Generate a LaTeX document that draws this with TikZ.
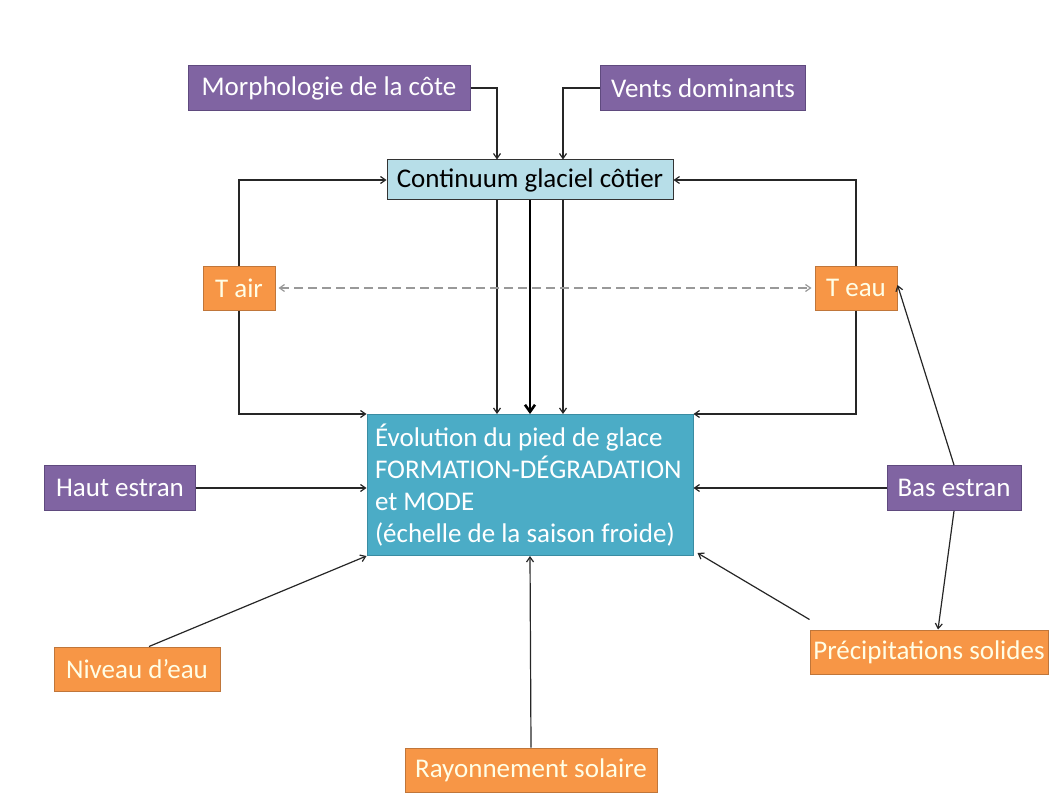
\documentclass[tikz,border=0pt]{standalone}
\usepackage{fontspec}
\setmainfont{Carlito}
\usetikzlibrary{calc,arrows.meta}

\definecolor{violetbox}{HTML}{8064A2}
\definecolor{violetdark}{HTML}{5F4A7E}
\definecolor{orangebox}{HTML}{F79646}
\definecolor{orangedark}{HTML}{C0763A}
\definecolor{bleuclair}{HTML}{B7DEE8}
\definecolor{bleu}{HTML}{4BACC6}
\definecolor{bleudark}{HTML}{3A8CA2}

\begin{document}
\begin{tikzpicture}[x=1pt,y=-1pt,
    every node/.style={font=\fontsize{27}{32}\selectfont, inner sep=0pt},
    facteur/.style={draw=violetdark, fill=violetbox, text=white, line width=1pt, minimum height=45pt},
    mesure/.style={draw=orangedark, fill=orangebox, text=white!90!yellow, line width=1pt, minimum height=44pt},
    fleche/.style={-{Straight Barb[length=5pt,width=7pt]}, line width=1.2pt, black!85},
    ]
            \useasboundingbox (0,0) rectangle (1059,794);
            % boites du haut
            \node[facteur, minimum width=282pt] (morpho) at (329,88) {Morphologie de la côte};
            \node[facteur, minimum width=205pt] (vents) at (703,88) {Vents dominants};
            \node[draw=black!80, fill=bleuclair, line width=1pt, minimum width=286pt, minimum height=40pt] (cont) at (530,180) {Continuum glaciel côtier};
            % temperatures
            \node[mesure, minimum width=72pt] (tair) at (239,288) {T air};
            \node[mesure, minimum width=82pt] (teau) at (856,288) {T eau};
            % pied de glace
            \node[draw=bleudark, fill=bleu, text=white, line width=1pt, minimum width=326pt, minimum height=141pt,
                  inner xsep=8pt, text width=310pt, align=flush left] (evol) at (530,485)
                  {Évolution du pied de glace\\FORMATION-DÉGRADATION\\et MODE\\(échelle de la saison froide)};
            \node[facteur, minimum width=151pt] (haut) at (120,488) {Haut estran};
            \node[facteur, minimum width=134pt] (bas) at (954,488) {Bas estran};
            % boites du bas
            \node[mesure, minimum width=166pt] (niveau) at (137,669) {Niveau d'eau};
            \node[mesure, minimum width=238pt] (precip) at (929,652) {Précipitations solides};
            \node[mesure, minimum width=252pt] (rayon) at (531,770) {Rayonnement solaire};

            \draw[fleche] (morpho.east) -| ([xshift=-33pt]cont.north);
            \draw[fleche] (vents.west) -| ([xshift=33pt]cont.north);
            \draw[fleche] (tair.north) |- (cont.west);
            \draw[fleche] (teau.north) |- (cont.east);
            \draw[fleche] (tair.south) |- (evol.north west);
            \draw[fleche] (teau.south) |- (evol.north east);
            \draw[fleche] ([xshift=-33pt]cont.south) -- ([xshift=-33pt]cont.south |- evol.north);
            \draw[fleche] ([xshift=33pt]cont.south) -- ([xshift=33pt]cont.south |- evol.north);
            \draw[-{Straight Barb[length=7pt,width=10pt]}, line width=2.6pt, black] (cont.south) -- (evol.north);
            \draw[{Straight Barb[length=5pt,width=7pt]}-{Straight Barb[length=5pt,width=7pt]}, line width=1.2pt, black!40, dash pattern=on 9pt off 5pt] ([xshift=3pt]tair.east) -- ([xshift=-3pt]teau.west);
            \draw[fleche] (haut.east) -- (haut.east -| evol.west);
            \draw[fleche] (bas.west) -- (bas.west -| evol.east);
            \draw[fleche] ([xshift=12pt]niveau.north) -- (evol.south west);
            \draw[fleche] (rayon.north) -- (evol.south);
            \draw[fleche] ([yshift=10pt]precip.north west) -- ([xshift=4pt,yshift=3pt]evol.south east);
            \draw[fleche] (bas.north) -- ([yshift=3pt]teau.east);
            \draw[fleche] (bas.south) -- ([xshift=9pt]precip.north);
        \end{tikzpicture}
\end{document}
